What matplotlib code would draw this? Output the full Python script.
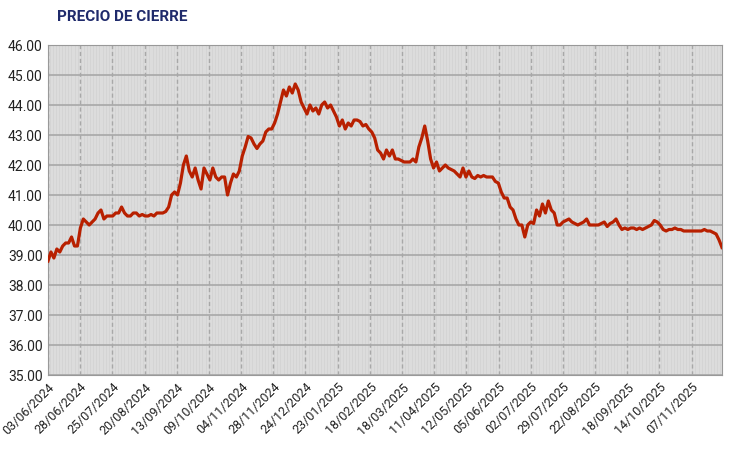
import matplotlib
matplotlib.use("Agg")
import matplotlib.pyplot as plt
import numpy as np

prices = [38.8,39.1,38.9,39.2,39.1,39.3,39.4,39.4,39.6,39.3,39.3,39.9,40.2,40.1,40.0,40.1,40.2,40.4,40.5,40.2,
40.3,40.3,40.3,40.4,40.4,40.6,40.4,40.3,40.3,40.4,40.4,40.3,40.35,40.3,40.3,40.35,40.3,40.4,40.4,40.4,
40.45,40.6,41.0,41.1,41.0,41.4,42.0,42.3,41.8,41.6,41.9,41.5,41.2,41.9,41.7,41.5,41.9,41.6,41.5,41.6,
41.6,41.0,41.4,41.7,41.6,41.8,42.3,42.6,42.95,42.9,42.7,42.55,42.7,42.8,43.1,43.2,43.2,43.4,43.7,44.1,
44.5,44.3,44.6,44.4,44.7,44.5,44.1,43.9,43.7,44.0,43.8,43.9,43.7,44.0,44.1,43.9,44.0,43.8,43.6,43.3,
43.5,43.2,43.4,43.3,43.5,43.5,43.45,43.3,43.35,43.2,43.1,42.9,42.5,42.4,42.2,42.5,42.3,42.5,42.2,42.2,
42.15,42.1,42.1,42.1,42.2,42.1,42.6,42.9,43.3,42.8,42.2,41.9,42.1,41.8,41.9,42.0,41.9,41.85,41.8,41.7,
41.6,41.9,41.6,41.8,41.6,41.55,41.65,41.6,41.65,41.6,41.6,41.6,41.45,41.4,41.1,40.9,40.9,40.6,40.5,40.2,
40.0,40.0,39.6,40.0,40.1,40.05,40.5,40.3,40.7,40.4,40.8,40.5,40.4,40.0,40.0,40.1,40.15,40.2,40.1,40.05,
40.0,40.05,40.1,40.2,40.0,40.0,40.0,40.0,40.05,40.1,39.95,40.05,40.1,40.2,40.0,39.85,39.9,39.85,39.9,39.9,
39.85,39.9,39.85,39.9,39.95,40.0,40.15,40.1,40.0,39.85,39.8,39.85,39.85,39.9,39.85,39.85,39.8,39.8,39.8,39.8,
39.8,39.8,39.8,39.85,39.8,39.8,39.75,39.7,39.5,39.25]

date_labels = ["03/06/2024","28/06/2024","25/07/2024","20/08/2024","13/09/2024","09/10/2024","04/11/2024",
"28/11/2024","24/12/2024","23/01/2025","18/02/2025","18/03/2025","11/04/2025","12/05/2025","05/06/2025",
"02/07/2025","29/07/2025","22/08/2025","18/09/2025","14/10/2025","07/11/2025"]
y_ticks = [35,36,37,38,39,40,41,42,43,44,45,46]

plt.rcParams['font.family'] = ['Roboto', 'DejaVu Sans']
fig = plt.figure(figsize=(7.3, 4.5), dpi=100)
ax = fig.add_axes([48/730, 75/450, 674/730, 330/450])
n = len(prices)
x = np.arange(n)
ax.set_facecolor('#d4d4d4')
for i in np.arange(0, n, 0.5):
    ax.axvline(i, color='#e0e0e0', lw=0.5, zorder=0)
tickpos = np.linspace(0, 0.955*(n-1), len(date_labels))
for t in tickpos:
    ax.axvline(t, color='#a8a8a8', lw=1.0, ls=(0,(3,2)), zorder=0.5)
for yv in y_ticks:
    ax.axhline(yv, color='#a8a8a8', lw=1.2, zorder=0.6)
ax.plot(x, prices, color='#b82000', lw=2.3, zorder=3)
ax.set_xlim(0, n-1)
ax.set_ylim(35, 46)
ax.set_yticks(y_ticks)
ax.set_yticklabels([f"{v:.2f}" for v in y_ticks], fontsize=10, color='#222222')
ax.set_xticks(tickpos)
ax.set_xticklabels(date_labels, rotation=45, ha='right', rotation_mode='anchor', fontsize=9, color='#222222')
ax.tick_params(length=0, pad=4)
for s in ax.spines.values():
    s.set_color('#999999')
fig.text(57/730, 1-17/450, "PRECIO DE CIERRE", fontsize=11, fontweight='bold', color='#1f2a6b', va='center')
fig.savefig("out.png", dpi=100)
